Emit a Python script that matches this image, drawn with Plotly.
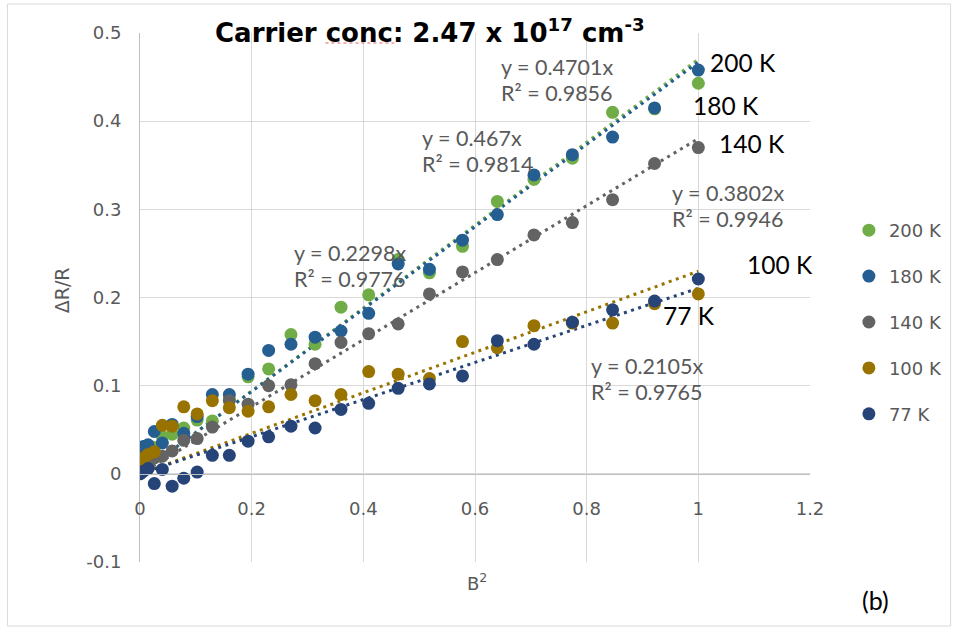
import plotly.graph_objects as go

# ---------------- data ----------------
B2 = [0, 0.0016, 0.0064, 0.0144, 0.0256, 0.04, 0.0576, 0.0784, 0.1024, 0.1296,
      0.16, 0.1936, 0.2304, 0.2704, 0.3136, 0.36, 0.4096, 0.4624, 0.5184, 0.5776,
      0.64, 0.7056, 0.7744, 0.8464, 0.9216, 1.0]

series_names = ["200 K", "180 K", "140 K", "100 K", "77 K"]

y_200K = [0.010, 0.018, 0.022, 0.025, 0.030, 0.042, 0.045, 0.052, 0.061, 0.060,
          0.085, 0.110, 0.119, 0.158, 0.147, 0.189, 0.203, 0.243, 0.228, 0.258,
          0.309, 0.334, 0.358, 0.410, 0.414, 0.443]
y_180K = [0.025, 0.027, 0.031, 0.033, 0.048, 0.035, 0.056, 0.046, 0.065, 0.090,
          0.090, 0.113, 0.140, 0.147, 0.155, 0.162, 0.182, 0.238, 0.232, 0.265,
          0.294, 0.339, 0.362, 0.382, 0.415, 0.458]
y_140K = [0.003, 0.005, 0.008, 0.012, 0.018, 0.020, 0.026, 0.038, 0.040, 0.053,
          0.083, 0.079, 0.100, 0.101, 0.125, 0.149, 0.159, 0.170, 0.204, 0.229,
          0.243, 0.271, 0.285, 0.311, 0.352, 0.370]
y_100K = [0.008, 0.012, 0.018, 0.022, 0.025, 0.055, 0.054, 0.076, 0.068, 0.083,
          0.075, 0.071, 0.076, 0.090, 0.083, 0.090, 0.116, 0.113, 0.108, 0.150,
          0.143, 0.168, 0.171, 0.171, 0.193, 0.204]
y_77K = [0.000, 0.001, 0.003, 0.006, -0.011, 0.005, -0.014, -0.005, 0.002, 0.021,
         0.021, 0.037, 0.042, 0.054, 0.052, 0.073, 0.080, 0.097, 0.102, 0.111,
         0.151, 0.147, 0.172, 0.186, 0.196, 0.221]

series_values = [y_200K, y_180K, y_140K, y_100K, y_77K]
colors = ["#70AD47", "#255E91", "#636363", "#997300", "#264478"]

fit_slopes = [0.4701, 0.467, 0.3802, 0.2298, 0.2105]
fit_r2 = [0.9856, 0.9814, 0.9946, 0.9776, 0.9765]
fit_x = [0, 1]

x_ticks = [0, 0.2, 0.4, 0.6, 0.8, 1.0, 1.2]
x_tick_text = ["0", "0.2", "0.4", "0.6", "0.8", "1", "1.2"]
y_ticks = [-0.1, 0, 0.1, 0.2, 0.3, 0.4, 0.5]
y_tick_text = ["-0.1", "0", "0.1", "0.2", "0.3", "0.4", "0.5"]

# label positions (data coordinates) for the equations and series tags
eq_pos = [(0.643, 0.461), (0.502, 0.381), (0.95, 0.318), (0.273, 0.250), (0.804, 0.122)]
tag_text = ["200 K", "180 K", "140 K", "100 K", "77 K"]
tag_pos = [(1.018, 0.466), (0.9875, 0.418), (1.034, 0.375), (1.084, 0.237), (0.934, 0.180)]

GRAY = "#595959"
TXT_FONT = "DejaVu Sans"

fig = go.Figure()

# trendlines (behind markers)
for name, slope, col in zip(series_names, fit_slopes, colors):
    fig.add_trace(go.Scatter(
        x=fit_x, y=[slope * v for v in fit_x], mode="lines",
        line=dict(color=col, width=3, dash="3px,4.5px"),
        showlegend=False, hoverinfo="skip"))

for name, ys, col in zip(series_names, series_values, colors):
    fig.add_trace(go.Scatter(
        x=B2, y=ys, mode="markers", name=name, legendgroup=name,
        marker=dict(color=col, size=13, line=dict(width=0))))

annotations = []
for (ex, ey), s, r in zip(eq_pos, fit_slopes, fit_r2):
    annotations.append(dict(x=ex, y=ey, xref="x", yref="y", xanchor="left", yanchor="middle",
                            text=f"y = {s:g}x", showarrow=False,
                            font=dict(family="Lato", size=21.5, color=GRAY)))
    annotations.append(dict(x=ex, y=ey - 0.0295, xref="x", yref="y", xanchor="left", yanchor="middle",
                            text=f"R² = {r:g}", showarrow=False,
                            font=dict(family="Lato", size=21.5, color=GRAY)))
for t, (tx, ty) in zip(tag_text, tag_pos):
    annotations.append(dict(x=tx, y=ty, xref="x", yref="y", xanchor="left", yanchor="middle",
                            text=t, showarrow=False,
                            font=dict(family="Lato", size=24.5, color="black")))

annotations.append(dict(x=(213 - 140) / 672, y=(562 - 31) / 529, xref="paper", yref="paper",
                        xanchor="left", yanchor="middle",
                        text="<b>Carrier conc: 2.47 x 10<sup>17</sup> cm<sup>-3</sup></b>",
                        showarrow=False, font=dict(family=TXT_FONT, size=26, color="black")))
annotations.append(dict(x=(478 - 140) / 672, y=(562 - 582) / 529, xref="paper", yref="paper",
                        xanchor="center", yanchor="middle",
                        text="B<sup>2</sup>", showarrow=False,
                        font=dict(family=TXT_FONT, size=18, color=GRAY)))
annotations.append(dict(x=(62 - 140) / 672, y=(562 - 290) / 529, xref="paper", yref="paper",
                        xanchor="center", yanchor="middle",
                        text="ΔR/R", textangle=-90, showarrow=False,
                        font=dict(family=TXT_FONT, size=19, color=GRAY)))
annotations.append(dict(x=(878 - 140) / 672, y=(562 - 600) / 529, xref="paper", yref="paper",
                        xanchor="center", yanchor="middle",
                        text="(b)", showarrow=False,
                        font=dict(family="Lato", size=25, color="black")))

shapes = [
    dict(type="rect", xref="paper", yref="paper",
         x0=(7 - 140) / 672, x1=(953 - 140) / 672, y0=(562 - 626) / 529, y1=(562 - 4) / 529,
         line=dict(color="#D9D9D9", width=1), layer="below"),
    dict(type="line", xref="paper", yref="paper",
         x0=(326 - 140) / 672, x1=(395 - 140) / 672, y0=(562 - 43) / 529, y1=(562 - 43) / 529,
         line=dict(color="#E06666", width=1.2, dash="dot")),
]

fig.update_layout(
    width=960, height=630,
    margin=dict(l=140, r=148, t=33, b=68),
    paper_bgcolor="white", plot_bgcolor="white",
    showlegend=True,
    legend=dict(x=(851 - 140) / 672, y=(562 - 212) / 529, xanchor="left", yanchor="top",
                font=dict(family=TXT_FONT, size=18, color=GRAY),
                tracegroupgap=19.5, bgcolor="rgba(0,0,0,0)"),
    annotations=annotations, shapes=shapes,
    xaxis=dict(range=[0, 1.2], tickvals=x_ticks, ticktext=x_tick_text,
               showgrid=True, gridcolor="#D9D9D9", gridwidth=1,
               zeroline=False, showline=True, linecolor="#BFBFBF", linewidth=1,
               anchor="free", position=1 / 6, ticks="", ticklabelstandoff=19,
               tickfont=dict(family=TXT_FONT, size=18, color=GRAY)),
    yaxis=dict(range=[-0.1, 0.5], tickvals=y_ticks, ticktext=y_tick_text,
               showgrid=True, gridcolor="#D9D9D9", gridwidth=1,
               zeroline=False, showline=True, linecolor="#BFBFBF", linewidth=1,
               ticks="", ticklabelstandoff=14,
               tickfont=dict(family=TXT_FONT, size=18, color=GRAY)),
)

fig.write_html("out.html")
